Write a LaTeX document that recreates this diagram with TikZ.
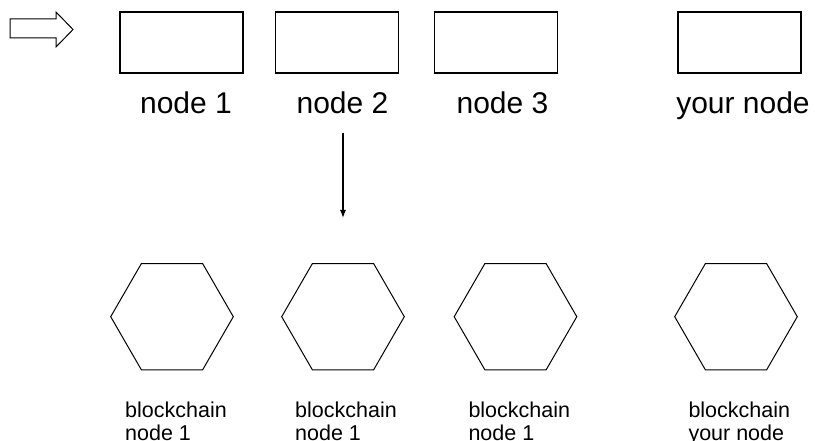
\documentclass[tikz,border=0pt]{standalone}
\usepackage{fontspec}
\setmainfont{Liberation Sans}
\usetikzlibrary{shapes.geometric,arrows.meta}
\begin{document}
\begin{tikzpicture}[x=1pt,y=-1pt,
  box/.style={draw,line width=1.1pt,minimum width=123pt,minimum height=61pt,inner sep=0pt},
  hexa/.style={draw,line width=1pt,regular polygon,regular polygon sides=6,minimum size=122.6pt,inner sep=0pt},
  toplbl/.style={anchor=base,inner sep=0pt,font=\fontsize{30}{34}\selectfont},
  botlbl/.style={anchor=north west,inner sep=0pt,align=left,font=\fontsize{21.5}{22.5}\selectfont}]
\useasboundingbox[fill=white] (0,0) rectangle (815,441);
% hollow arrow
\draw[line width=1pt,fill=white] (10,19) -- (56,19) -- (56,12) -- (73,29.5) -- (56,47) -- (56,38) -- (10,38) -- cycle;
% boxes
\node[box] (r1) at (181.5,42.5) {};
\node[box] (r2) at (337,42.5) {};
\node[box] (r3) at (496,42.5) {};
\node[box] (r4) at (739.5,42.5) {};
% labels
\node[toplbl] (l1) at (186,114) {node 1};
\node[toplbl] (l2) at (342.5,114) {node 2};
\node[toplbl] (l3) at (502.5,114) {node 3};
\node[toplbl] (l4) at (743,114) {your node};
% arrow
\coordinate (as) at (343,133);
\coordinate (ae) at (343,218);
\draw[line width=1.2pt,-{Latex[length=8pt,width=6pt]}] (as) -- (ae);
% hexagons
\node[hexa] (h1) at (172,316.7) {};
\node[hexa] (h2) at (343,316.7) {};
\node[hexa] (h3) at (515.5,316.7) {};
\node[hexa] (h4) at (736,316.7) {};
% bottom labels
\node[botlbl] (b1) at (125,402) {blockchain\\node 1};
\node[botlbl] (b2) at (295,402) {blockchain\\node 1};
\node[botlbl] (b3) at (468.3,402) {blockchain\\node 1};
\node[botlbl] (b4) at (688.3,402) {blockchain\\your node};
\end{tikzpicture}
\end{document}
